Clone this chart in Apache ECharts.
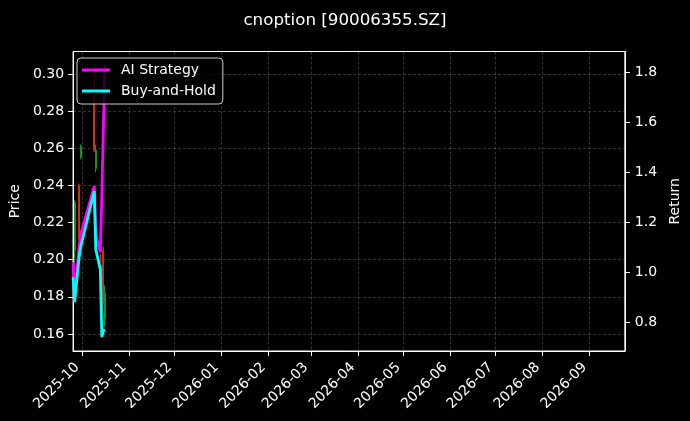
<!DOCTYPE html>
<html>
<head>
<meta charset="utf-8">
<script src="https://cdn.jsdelivr.net/npm/echarts@6/dist/echarts.min.js"></script>
<style>
html,body{margin:0;padding:0;background:#000;}
#chart{width:690px;height:421px;}
</style>
</head>
<body>
<div id="chart"></div>
<script>
// ---- data ----
const titleText = 'cnoption [90006355.SZ]';
const tradeDates = ['2025-09-25','2025-09-26','2025-09-29','2025-09-30','2025-10-09','2025-10-10','2025-10-13','2025-10-14','2025-10-15','2025-10-16'];
const aiStrategy = [1.04, 0.91, 1.10, 1.15, 1.345, 1.15, 1.08, 1.32, 1.58, 1.83];
const buyAndHold = [0.98, 0.88, 1.06, 1.10, 1.325, 1.09, 1.01, 0.74, 0.765, 0.77];

const candleDates = ['2025-09-26','2025-09-29','2025-09-30','2025-10-09','2025-10-10','2025-10-13','2025-10-14','2025-10-15','2025-10-16'];
const candleOpen  = [0.205, 0.240, 0.255, 0.288, 0.249, 0.200, 0.195, 0.205, 0.168];
const candleClose = [0.231, 0.212, 0.261, 0.259, 0.259, 0.196, 0.172, 0.178, 0.182];
const candleLow   = [0.196, 0.211, 0.254, 0.258, 0.247, 0.194, 0.158, 0.176, 0.164];
const candleHigh  = [0.232, 0.241, 0.262, 0.305, 0.262, 0.203, 0.197, 0.207, 0.186];

const monthTicks = ['2025-10','2025-11','2025-12','2026-01','2026-02','2026-03','2026-04','2026-05','2026-06','2026-07','2026-08','2026-09'];
const priceTicks = [0.16, 0.18, 0.20, 0.22, 0.24, 0.26, 0.28, 0.30];
const returnTicks = [0.8, 1.0, 1.2, 1.4, 1.6, 1.8];

// ---- helpers ----
function ts(s) {
  const p = s.split('-').map(Number);
  return new Date(p[0], p[1] - 1, p[2] || 1).getTime();
}
const monthTickTs = monthTicks.map(ts);
const xMin = new Date(2025, 8, 25, 0).getTime();
const xMax = new Date(2026, 8, 24, 5).getTime();

const aiData = tradeDates.map((d, i) => [ts(d), aiStrategy[i]]);
const bhData = tradeDates.map((d, i) => [ts(d), buyAndHold[i]]);
const candleData = candleDates.map((d, i) => [ts(d), candleOpen[i], candleClose[i], candleLow[i], candleHigh[i]]);

const FONT = 'DejaVu Sans';
const gridLine = { show: true, lineStyle: { color: 'rgba(255,255,255,0.25)', type: [3, 2], width: 0.8 } };

const chart = echarts.init(document.getElementById('chart'), null, { renderer: 'canvas' });
chart.setOption({
  backgroundColor: '#000000',
  animation: false,
  textStyle: { fontFamily: FONT },
  title: {
    text: titleText,
    left: 'center',
    top: 7,
    padding: [5, 5, 5, 14],
    textStyle: { color: '#ffffff', fontSize: 16.7, fontWeight: 'normal', fontFamily: FONT }
  },
  grid: {
    left: 70, right: 61, top: 51.5, bottom: 70,
    show: true, borderColor: '#ffffff', borderWidth: 1, backgroundColor: 'transparent'
  },
  legend: {
    left: 77, top: 58,
    orient: 'vertical',
    icon: 'rect',
    itemWidth: 28, itemHeight: 3,
    itemGap: 5,
    padding: [4, 7, 5, 5],
    backgroundColor: 'rgba(0,0,0,0.8)',
    borderColor: '#cccccc', borderWidth: 1, borderRadius: 4,
    textStyle: { color: '#ffffff', fontSize: 14, lineHeight: 16, fontFamily: FONT, padding: [0, 0, 0, 6] },
    data: ['AI Strategy', 'Buy-and-Hold']
  },
  xAxis: {
    type: 'value',
    min: xMin, max: xMax,
    axisLine: { show: true, onZero: false, lineStyle: { color: '#ffffff', width: 1 } },
    axisTick: { show: true, length: 5, lineStyle: { color: '#ffffff' }, customValues: monthTickTs },
    axisLabel: {
      color: '#ffffff', fontSize: 14, fontFamily: FONT, rotate: 45, margin: 19,
      verticalAlign: 'bottom', align: 'right',
      customValues: monthTickTs,
      formatter: function (v) {
        const d = new Date(v);
        const m = d.getMonth() + 1;
        return d.getFullYear() + '-' + (m < 10 ? '0' + m : m);
      }
    },
    splitLine: gridLine
  },
  yAxis: [
    {
      type: 'value', position: 'left',
      min: 0.1508, max: 0.3121,
      name: 'Price', nameLocation: 'middle', nameGap: 45, nameRotate: 90,
      nameTextStyle: { color: '#ffffff', fontSize: 14, fontFamily: FONT },
      axisLine: { show: true, onZero: false, lineStyle: { color: '#ffffff' } },
      axisTick: { show: true, length: 5, lineStyle: { color: '#ffffff' }, customValues: priceTicks },
      axisLabel: { color: '#ffffff', fontSize: 14, fontFamily: FONT, margin: 9, customValues: priceTicks,
        formatter: v => Number(v).toFixed(2) },
      splitLine: gridLine
    },
    {
      type: 'value', position: 'right',
      min: 0.684, max: 1.884,
      name: 'Return', nameLocation: 'middle', nameGap: 37, nameRotate: 90,
      nameTextStyle: { color: '#ffffff', fontSize: 14, fontFamily: FONT },
      axisLine: { show: true, onZero: false, lineStyle: { color: '#ffffff' } },
      axisTick: { show: true, length: 5, lineStyle: { color: '#ffffff' }, customValues: returnTicks },
      axisLabel: { color: '#ffffff', fontSize: 14, fontFamily: FONT, margin: 10, customValues: returnTicks,
        formatter: v => Number(v).toFixed(1) },
      splitLine: { show: false }
    }
  ],
  series: [
    {
      name: 'Price', type: 'candlestick', yAxisIndex: 0,
      encode: { x: 0, y: [1, 2, 3, 4] },
      barWidth: 1.5,
      itemStyle: { color: '#1f8f1f', color0: '#d03010', borderColor: '#1f8f1f', borderColor0: '#d03010', borderWidth: 1 },
      data: candleData,
      z: 1
    },
    {
      name: 'AI Strategy', type: 'line', yAxisIndex: 1,
      showSymbol: false, symbol: 'none',
      lineStyle: { color: '#ff00ff', width: 2.8 },
      itemStyle: { color: '#ff00ff' },
      data: aiData,
      z: 3
    },
    {
      name: 'Buy-and-Hold', type: 'line', yAxisIndex: 1,
      showSymbol: false, symbol: 'none',
      lineStyle: { color: '#00ffff', width: 2.8 },
      itemStyle: { color: '#00ffff' },
      data: bhData,
      z: 4
    }
  ]
});
</script>
</body>
</html>
